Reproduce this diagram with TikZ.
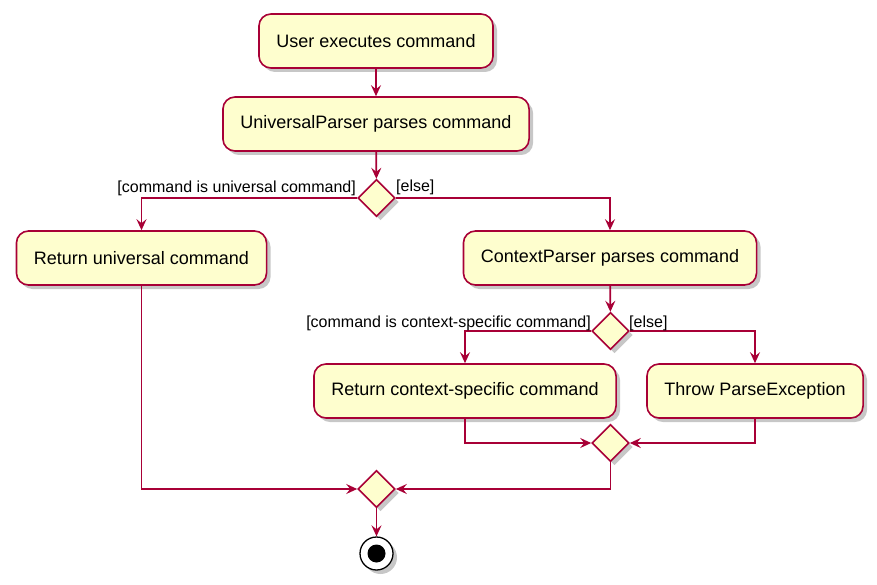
\documentclass[tikz,border=0pt]{standalone}
\usepackage{fontspec}
\setmainfont{Liberation Sans}
\usetikzlibrary{positioning,arrows.meta,shapes.geometric,shadows}
\definecolor{umlred}{HTML}{A80036}
\definecolor{umlfill}{HTML}{FEFECE}

\begin{document}
\begin{tikzpicture}[x=1pt, y=-1pt,
  umlshadow/.style={drop shadow={shadow xshift=4pt, shadow yshift=-4pt, opacity=0.22, fill=black}},
  actv/.style={rectangle, rounded corners=12pt, draw=umlred, line width=1.6pt, fill=umlfill,
    minimum height=54pt, inner xsep=17.5pt, font=\fontsize{18}{21}\selectfont, umlshadow},
  decv/.style={diamond, aspect=1, draw=umlred, line width=1.6pt, fill=umlfill,
    minimum size=37pt, inner sep=0pt, umlshadow},
  stopv/.style={circle, draw=black, line width=1.3pt, fill=white, minimum size=33pt, inner sep=0pt, umlshadow},
  guard/.style={font=\fontsize{16}{18}\selectfont, inner sep=1pt},
  flow/.style={draw=umlred, line width=1.7pt, -{Stealth[length=11pt, width=10pt, inset=4pt]}}
]
\useasboundingbox (0,0) rectangle (877,585);

\node[actv] (exec) at (376,41) {User executes command};
\node[actv] (uparse) at (376,124) {UniversalParser parses command};
\node[decv] (isuniv) at (376.5,198) {};
\node[actv] (retuniv) at (141.5,258) {Return universal command};
\node[actv] (cparse) at (610,258) {ContextParser parses command};
\node[decv] (isctx) at (610.5,331) {};
\node[actv] (retctx) at (465,391) {Return context-specific command};
\node[actv] (throwex) at (755,391) {Throw ParseException};
\node[decv] (ctxmerge) at (610.5,443) {};
\node[decv] (allmerge) at (376.5,489) {};
\node[stopv] (stop) at (376.5,553.5) {};
\fill[black] (stop.center) circle (9pt);

\draw[flow] (exec) -- (uparse);
\draw[flow] (uparse) -- (isuniv);
\draw[flow] (isuniv.west) -| (retuniv);
\draw[flow] (isuniv.east) -| (cparse);
\draw[flow] (retuniv) |- (allmerge.west);
\draw[flow] (cparse) -- (isctx);
\draw[flow] (isctx.west) -| (retctx);
\draw[flow] (isctx.east) -| (throwex);
\draw[flow] (retctx) |- (ctxmerge.west);
\draw[flow] (throwex) |- (ctxmerge.east);
\draw[flow] (ctxmerge) |- (allmerge.east);
\draw[flow] (allmerge) -- (stop);

\node[guard, anchor=east] (univlbl) at (357,188) {[command is universal command]};
\node[guard, anchor=west] (elselbl) at (395,187) {[else]};
\node[guard, anchor=east] (ctxlbl) at (592,323) {[command is context-specific command]};
\node[guard, anchor=west] (elselbltwo) at (628,323) {[else]};

\end{tikzpicture}
\end{document}
